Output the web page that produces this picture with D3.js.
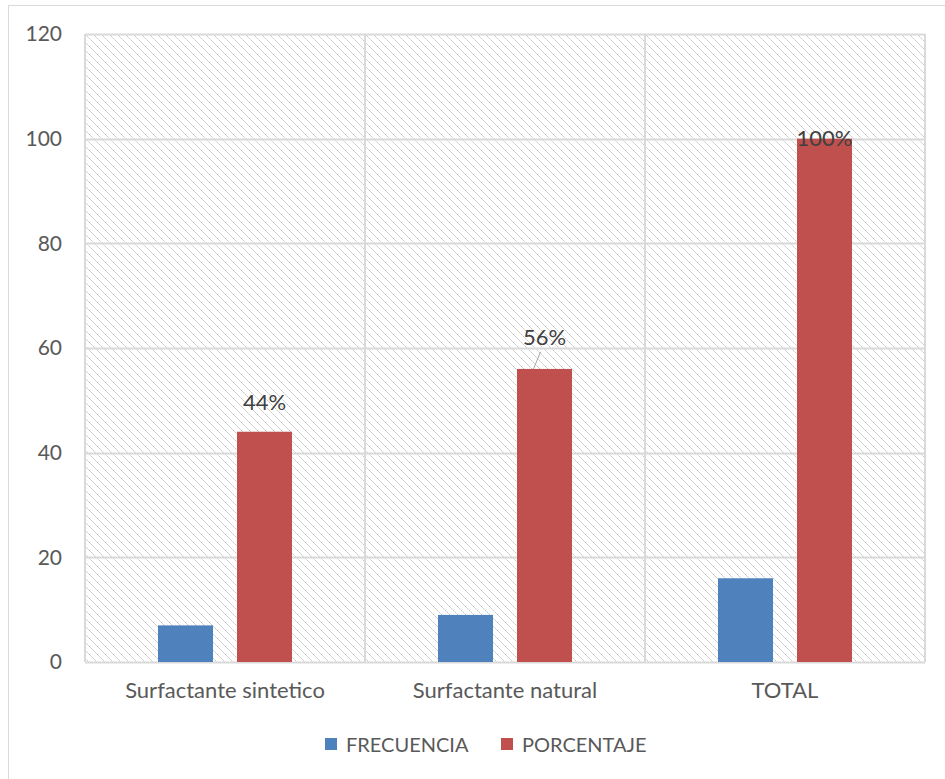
<!DOCTYPE html>
<html>
<head>
<meta charset="utf-8">
<script src="https://cdn.jsdelivr.net/npm/d3@7/dist/d3.min.js"></script>
<style>
  html, body { margin: 0; padding: 0; background: #fff; }
  svg { display: block; font-family: Lato, "Open Sans", sans-serif; }
</style>
</head>
<body>
<svg id="chart" width="945" height="779"></svg>
<script>
// Chart data
const categories = ["Surfactante sintetico", "Surfactante natural", "TOTAL"];
const seriesNames = ["FRECUENCIA", "PORCENTAJE"];
const frecuencia = [7, 9, 16];
const porcentaje = [44, 56, 100];
const porcentajeLabels = ["44%", "56%", "100%"];
const yTicks = [0, 20, 40, 60, 80, 100, 120];
const colors = ["#4f81bd", "#c0504d"];

const svg = d3.select("#chart");
const margin = { left: 85, right: 20, top: 34, bottom: 117 };
const W = 945, H = 779;
const plotW = W - margin.left - margin.right;
const plotH = H - margin.top - margin.bottom;
const FONT = "Lato, 'Open Sans', sans-serif";

// Hatched plot background: dotted downward diagonals
const defs = svg.append("defs");
const pat = defs.append("pattern")
  .attr("id", "hatch").attr("patternUnits", "userSpaceOnUse")
  .attr("width", 8).attr("height", 8);
pat.append("rect").attr("width", 8).attr("height", 8).attr("fill", "#fff");
d3.range(8).forEach(i => {
  pat.append("rect").attr("x", i).attr("y", i).attr("width", 1).attr("height", 1)
    .attr("fill", i % 2 === 0 ? "#c8c8c8" : "#dedede");
});

// Outer chart border
svg.append("rect").attr("x", 8.5).attr("y", 5.5).attr("width", 960).attr("height", 800)
  .attr("fill", "none").attr("stroke", "#d9d9d9").attr("stroke-width", 1);

const g = svg.append("g").attr("transform", `translate(${margin.left},${margin.top})`);

const x0 = d3.scaleBand().domain(categories).range([0, plotW]).paddingInner(0).paddingOuter(0);
const x1 = d3.scaleBand().domain(seriesNames).range([0, x0.bandwidth()]).paddingInner(0.304).paddingOuter(0.924);
const y = d3.scaleLinear().domain([0, 120]).range([plotH, 0]);

g.append("rect").attr("width", plotW).attr("height", plotH).attr("fill", "url(#hatch)");

// Horizontal gridlines
g.append("g").selectAll("line").data(yTicks).join("line")
  .attr("x1", 0).attr("x2", plotW)
  .attr("y1", d => Math.round(y(d)) + 0.5).attr("y2", d => Math.round(y(d)) + 0.5)
  .attr("stroke", "#d9d9d9").attr("stroke-width", 2);

// Vertical category separators
g.append("g").selectAll("line").data(d3.range(categories.length + 1)).join("line")
  .attr("x1", i => i * x0.bandwidth()).attr("x2", i => i * x0.bandwidth())
  .attr("y1", 0).attr("y2", plotH)
  .attr("stroke", "#d9d9d9").attr("stroke-width", 2);

// Y axis labels
const yAxis = d3.axisLeft(y).tickValues(yTicks).tickSize(0).tickPadding(23);
const ya = g.append("g").call(yAxis);
ya.select(".domain").remove();
ya.selectAll("text").attr("fill", "#595959").style("font-size", "21px")
  .style("font-family", FONT);

// X axis labels
const xAxis = d3.axisBottom(x0).tickSize(0).tickPadding(20);
const xa = g.append("g").attr("transform", `translate(0,${plotH})`).call(xAxis);
xa.select(".domain").remove();
xa.selectAll("text").attr("fill", "#595959").style("font-size", "22px")
  .style("font-family", FONT);

// Bars
const rows = categories.map((c, i) => ({ cat: c, vals: [frecuencia[i], porcentaje[i]] }));
const cg = g.append("g").selectAll("g").data(rows).join("g")
  .attr("transform", d => `translate(${x0(d.cat)},0)`);
cg.selectAll("rect").data(d => d.vals.map((v, j) => ({ s: seriesNames[j], v, j })))
  .join("rect")
  .attr("x", d => x1(d.s)).attr("width", x1.bandwidth())
  .attr("y", d => y(d.v)).attr("height", d => plotH - y(d.v))
  .attr("fill", d => colors[d.j]);

// Percentage labels on the red bars
const labelOffsets = [[0, -22], [0, -24], [0, 7]];
rows.forEach((d, i) => {
  const cx = x0(d.cat) + x1("PORCENTAJE") + x1.bandwidth() / 2;
  const top = y(porcentaje[i]);
  const [dx, dy] = labelOffsets[i];
  g.append("text").attr("x", cx + dx).attr("y", top + dy)
    .attr("text-anchor", "middle").attr("fill", "#404040")
    .style("font-size", "22px").style("font-family", FONT).text(porcentajeLabels[i]);
  if (i === 1) {
    g.append("line")
      .attr("x1", cx - 4).attr("y1", top - 17)
      .attr("x2", cx - 11).attr("y2", top)
      .attr("stroke", "#a6a6a6").attr("stroke-width", 1);
  }
});

// Legend
const legend = svg.append("g");
const legendItems = [{ x: 325, name: seriesNames[0], c: colors[0] }, { x: 501, name: seriesNames[1], c: colors[1] }];
legendItems.forEach(it => {
  legend.append("rect").attr("x", it.x).attr("y", 738).attr("width", 12).attr("height", 12).attr("fill", it.c);
  legend.append("text").attr("x", it.x + 21).attr("y", 752).attr("fill", "#595959")
    .style("font-size", "20px").style("font-family", FONT).text(it.name);
});
</script>
</body>
</html>
